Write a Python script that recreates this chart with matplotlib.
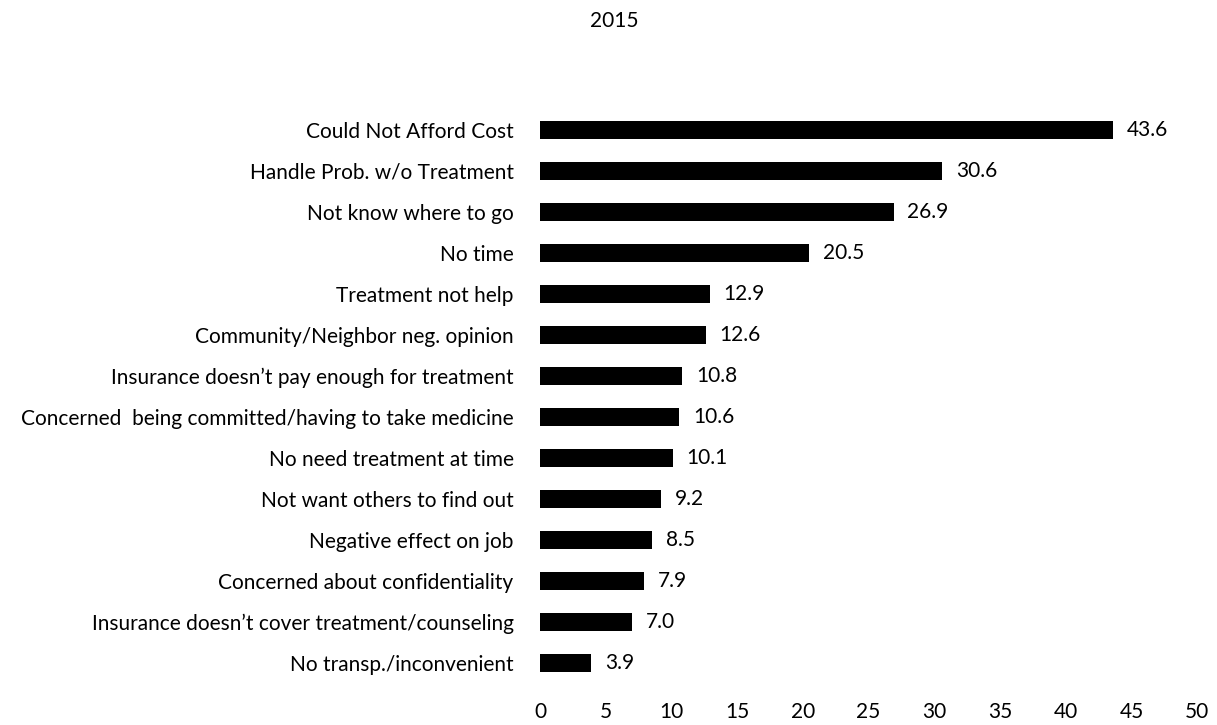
import matplotlib.pyplot as plt

# reasons for not getting treatment, 2015 (percent)
reasons = [
    "Could Not Afford Cost",
    "Handle Prob. w/o Treatment",
    "Not know where to go",
    "No time",
    "Treatment not help",
    "Community/Neighbor neg. opinion",
    "Insurance doesn\u2019t pay enough for treatment",
    "Concerned  being committed/having to take medicine",
    "No need treatment at time",
    "Not want others to find out",
    "Negative effect on job",
    "Concerned about confidentiality",
    "Insurance doesn\u2019t cover treatment/counseling",
    "No transp./inconvenient",
]
percent = [43.6, 30.6, 26.9, 20.5, 12.9, 12.6, 10.8, 10.6, 10.1, 9.2, 8.5, 7.9, 7.0, 3.9]
xticks = [0, 5, 10, 15, 20, 25, 30, 35, 40, 45, 50]

plt.rcParams['font.family'] = ['Lato', 'DejaVu Sans']

fig = plt.figure(figsize=(12.17, 7.25), dpi=100)
ax = fig.add_axes([0.4437, 0.057, 0.54, 0.792])

ypos = list(range(len(reasons)))
bars = ax.barh(ypos, percent, height=0.44, color='black')
ax.bar_label(bars, labels=[f"{v:.1f}" for v in percent], padding=10, fontsize=15)

ax.set_yticks(ypos)
ax.set_yticklabels(reasons, fontsize=15)
ax.set_ylim(len(reasons) - 0.5, -0.5)
ax.set_xlim(0, 50)
ax.set_xticks(xticks)
ax.set_xticklabels([str(t) for t in xticks], fontsize=15)
ax.tick_params(axis='y', length=0, pad=19)
ax.tick_params(axis='x', length=0, pad=13)
for s in ax.spines.values():
    s.set_visible(False)

fig.suptitle("2015", x=0.505, y=0.985, fontsize=15)

fig.savefig("out.png", dpi=100, facecolor='white')
